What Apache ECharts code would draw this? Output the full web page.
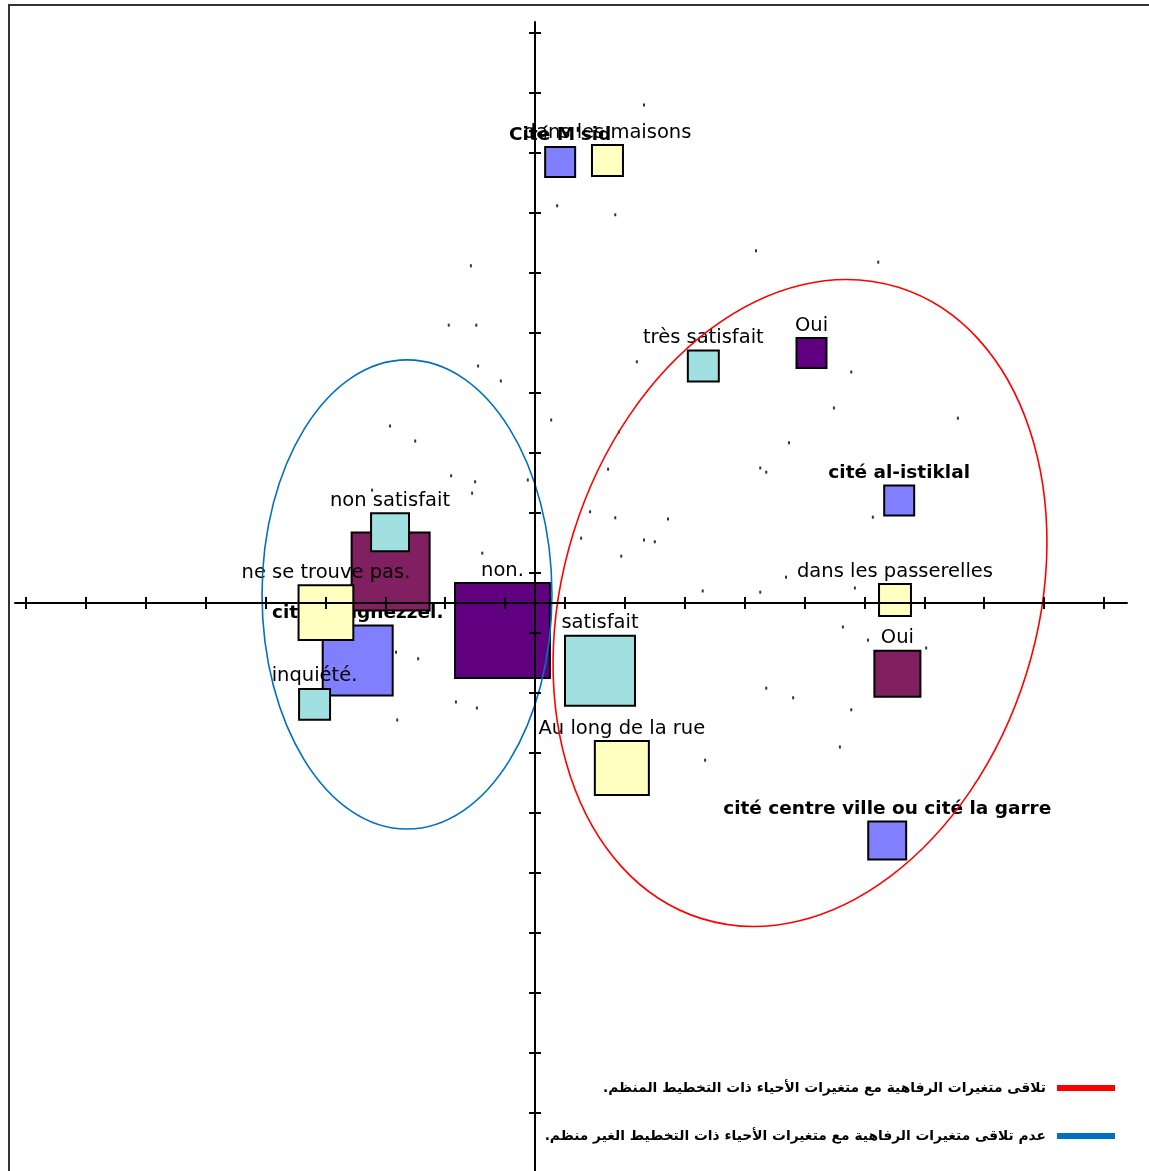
<!DOCTYPE html>
<html><head><meta charset="utf-8">
<script src="https://cdn.jsdelivr.net/npm/echarts@6/dist/echarts.min.js"></script>
<style>html,body{margin:0;padding:0;background:#fff}#c{width:1149px;height:1171px}</style>
</head><body><div id="c"></div>
<script>
// ---- Data (axis units: one tick = 0.1) ----
const citeNames = ["Cité M'sid", "cité al-istiklal", "cité centre ville ou cité la garre", "cité Boughezzel."];
const citeX = [0.042, 0.608, 0.588, -0.296];
const citeY = [0.735, 0.171, -0.396, -0.096];
const citeW = [9, 9, 14.4, 49];

const lieuNames = ["dans les maisons", "dans les passerelles", "Au long de la rue", "ne se trouve pas."];
const lieuX = [0.121, 0.601, 0.145, -0.349];
const lieuY = [0.7375, 0.005, -0.275, -0.016];
const lieuW = [9.6, 10.2, 29.2, 30];

const satNames = ["très satisfait", "satisfait", "non satisfait", "inquiété."];
const satX = [0.281, 0.1085, -0.242, -0.368];
const satY = [0.395, -0.113, 0.118, -0.169];
const satW = [9.6, 49, 14.4, 9.6];

const q1Names = ["Oui", "non."];
const q1X = [0.4616, -0.0543];
const q1Y = [0.4167, -0.0458];
const q1W = [9, 90];

const q2Names = ["Oui", ""];
const q2X = [0.605, -0.241];
const q2Y = [-0.118, 0.0525];
const q2W = [21.2, 60.8];

const indX = [0.182,0.037,0.134,0.369,0.573,-0.107,-0.144,-0.098,-0.095,-0.057,0.170,0.528,0.499,0.706,0.027,-0.242,-0.200,0.140,0.424,0.376,0.386,0.122,-0.140,-0.100,-0.105,-0.012,0.564,0.092,0.134,0.222,0.077,0.182,0.200,0.144,-0.088,0.419,0.280,0.376,0.534,0.514,0.653,0.556,-0.232,-0.195,0.386,0.431,-0.132,-0.097,-0.230,0.528,0.509,0.284,-0.272];
const indY = [0.830,0.662,0.647,0.587,0.568,0.562,0.463,0.463,0.395,0.370,0.402,0.385,0.325,0.308,0.305,0.295,0.270,0.285,0.267,0.225,0.218,0.223,0.212,0.202,0.183,0.205,0.143,0.152,0.142,0.140,0.108,0.105,0.102,0.078,0.083,0.043,0.020,0.018,0.025,-0.040,-0.075,-0.062,-0.082,-0.093,-0.142,-0.158,-0.165,-0.175,-0.195,-0.178,-0.240,-0.262,0.188];

const legendNames = [
  "تلاقى متغيرات الرفاهية مع متغيرات الأحياء ذات التخطيط المنظم.\u200F",
  "عدم تلاقى متغيرات الرفاهية مع متغيرات الأحياء ذات التخطيط الغير منظم.\u200F"
];
// annotation ellipses (axis units): cx, cy, rx, ry, rotation(deg)
const ellipseRed = [0.4424, 0.0, 0.396, 0.551, -17.3];
const ellipseBlue = [-0.2137, 0.0142, 0.242, 0.391, 0];

// ---- Chart ----
const chart = echarts.init(document.getElementById('c'), null, {renderer: 'canvas'});
const FONT = 'DejaVu Sans';
function sqSeries(names, xs, ys, ws, color, z, bold) {
  return {
    type: 'scatter', xAxisIndex: 0, yAxisIndex: 0, z: z, silent: true,
    symbol: 'rect',
    symbolSize: v => Math.sqrt(v[2]) * 10,
    itemStyle: {color: color, borderColor: '#000', borderWidth: 2, opacity: 1},
    label: {
      show: true, position: 'top', distance: 1.5, formatter: '{b}', color: '#000',
      fontFamily: FONT, fontSize: bold ? 18.5 : 19.5, fontWeight: bold ? 'bold' : 'normal'
    },
    emphasis: {disabled: true},
    data: names.map((n, i) => ({name: n, value: [xs[i], ys[i], ws[i]]}))
  };
}
const tickAxisStyle = {color: '#000', width: 2};
const option = {
  animation: false,
  backgroundColor: '#fff',
  grid: [
    {left: 15, right: 22, top: 22, bottom: 0},
    {left: 26, right: 45, top: 33, bottom: 58}
  ],
  xAxis: [
    {gridIndex: 0, type: 'value', min: -0.8681, max: 0.9883, z: 10,
      axisLine: {show: true, onZero: true, lineStyle: {color: '#000', width: 2}},
      axisTick: {show: false}, axisLabel: {show: false}, splitLine: {show: false}},
    {gridIndex: 1, type: 'value', min: 0, max: 18, interval: 1, position: 'bottom', offset: -510, z: 10,
      axisLine: {show: false, onZero: false}, axisTick: {show: true, inside: false, length: 6, lineStyle: tickAxisStyle},
      axisLabel: {show: false}, splitLine: {show: false}},
    {gridIndex: 1, type: 'value', min: 0, max: 18, interval: 1, position: 'bottom', offset: -510, z: 10,
      axisLine: {show: false, onZero: false}, axisTick: {show: true, inside: true, length: 6, lineStyle: tickAxisStyle},
      axisLabel: {show: false}, splitLine: {show: false}}
  ],
  yAxis: [
    {gridIndex: 0, type: 'value', min: -0.9467, max: 0.9683, z: 10,
      axisLine: {show: true, onZero: true, lineStyle: {color: '#000', width: 2}},
      axisTick: {show: false}, axisLabel: {show: false}, splitLine: {show: false}},
    {gridIndex: 1, type: 'value', min: 0, max: 18, interval: 1, position: 'left', offset: -509, z: 10,
      axisLine: {show: false, onZero: false}, axisTick: {show: true, inside: false, length: 6, lineStyle: tickAxisStyle},
      axisLabel: {show: false}, splitLine: {show: false}},
    {gridIndex: 1, type: 'value', min: 0, max: 18, interval: 1, position: 'left', offset: -509, z: 10,
      axisLine: {show: false, onZero: false}, axisTick: {show: true, inside: true, length: 6, lineStyle: tickAxisStyle},
      axisLabel: {show: false}, splitLine: {show: false}}
  ],
  legend: {
    orient: 'vertical', right: 29, top: 1073, align: 'right',
    itemWidth: 58, itemHeight: 6, itemGap: 28, selectedMode: false,
    icon: 'rect',
    textStyle: {fontFamily: FONT, fontWeight: 'bold', fontSize: 13.8, color: '#000', lineHeight: 20, padding: [0, 6, 0, 0]},
    data: legendNames.map((n, i) => ({name: n, itemStyle: {color: i === 0 ? '#ff0000' : '#0070c0'}}))
  },
  series: [
    sqSeries(citeNames, citeX, citeY, citeW, '#8080ff', 2, true),
    sqSeries(q1Names, q1X, q1Y, q1W, '#600080', 3, false),
    sqSeries(q2Names, q2X, q2Y, q2W, '#802060', 3, false),
    sqSeries(lieuNames, lieuX, lieuY, lieuW, '#ffffc0', 4, false),
    sqSeries(satNames, satX, satY, satW, '#a0e0e0', 5, false),
    {type: 'scatter', xAxisIndex: 0, yAxisIndex: 0, z: 6, silent: true, symbol: 'rect', symbolSize: [2, 3],
      itemStyle: {color: '#000'}, data: indX.map((x, i) => [x, indY[i]])},
    {type: 'line', name: legendNames[0], data: [], color: '#ff0000'},
    {type: 'line', name: legendNames[1], data: [], color: '#0070c0'}
  ]
};
chart.setOption(option);

function ellipseGraphic(e, color) {
  const c = chart.convertToPixel({gridIndex: 0}, [e[0], e[1]]);
  const px = chart.convertToPixel({gridIndex: 0}, [e[0] + e[2], e[1]]);
  const py = chart.convertToPixel({gridIndex: 0}, [e[0], e[1] + e[3]]);
  return {
    type: 'ellipse', z: 8, silent: true,
    x: c[0], y: c[1], rotation: e[4] * Math.PI / 180,
    shape: {cx: 0, cy: 0, rx: Math.abs(px[0] - c[0]), ry: Math.abs(c[1] - py[1])},
    style: {fill: null, stroke: color, lineWidth: 1.6}
  };
}
chart.setOption({
  graphic: [
    {type: 'rect', z: 20, silent: true, shape: {x: 9, y: 5, width: 1400, height: 1400},
      style: {fill: null, stroke: '#333', lineWidth: 2}},
    ellipseGraphic(ellipseRed, '#ff0000'),
    ellipseGraphic(ellipseBlue, '#0070c0')
  ]
});
</script></body></html>
